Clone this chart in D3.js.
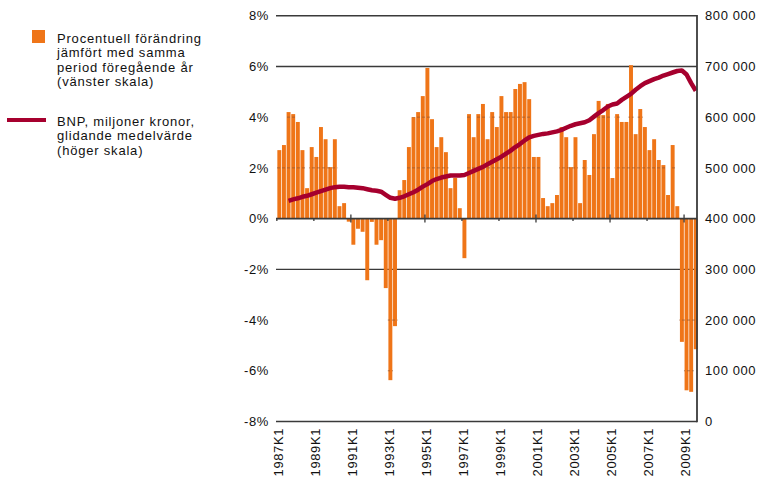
<!DOCTYPE html>
<html>
<head>
<meta charset="utf-8">
<script src="https://cdn.jsdelivr.net/npm/d3@7"></script>
<style>
  body { margin: 0; background: #fff; }
  svg { display: block; font-family: "Liberation Sans", Arial, Helvetica, sans-serif; }
  .lbl { font-size: 13px; fill: #111; letter-spacing: 0.6px; }
  .leg { font-size: 13px; fill: #111; letter-spacing: 0.8px; }
</style>
</head>
<body>
<svg width="761" height="478"></svg>
<script>

// quarters 1987K1 .. 2009K3
var quarters = [];
d3.range(1987, 2010).forEach(function(y) {
  [1, 2, 3, 4].forEach(function(q) {
    if (y < 2009 || q <= 3) quarters.push(y + "K" + q);
  });
});

// percent change vs same quarter previous year (left scale)
var change = [
  2.70, 2.90, 4.20, 4.12, 3.81, 2.70, 1.20, 2.82, 2.43, 3.61, 3.13, 2.03, 3.13, 0.49, 0.61, -0.12,
  -1.03, -0.40, -0.52, -2.43, -0.13, -1.03, -0.85, -2.74, -6.37, -4.24, 1.12, 1.52, 2.82, 4.00, 4.20, 4.83,
  5.94, 3.92, 2.82, 3.21, 2.62, 1.20, 1.60, 0.41, -1.56, 4.12, 3.21, 4.12, 4.52, 3.13, 4.20, 3.61,
  4.83, 4.20, 4.20, 5.11, 5.31, 5.38, 4.71, 2.43, 2.43, 0.81, 0.49, 0.61, 0.93, 3.61, 3.21, 2.03,
  3.21, 0.61, 2.31, 1.72, 3.33, 4.64, 4.08, 4.52, 1.60, 4.12, 3.81, 3.81, 6.05, 3.33, 4.32, 3.61,
  2.70, 3.13, 2.31, 2.11, 0.93, 2.90, 0.49, -4.86, -6.77, -6.83, -5.15
];

// BNP, miljoner kronor, glidande medelvärde (right scale)
var bnp = [
  null, null, 435000, 438000, 440000, 443000, 445000, 448000, 451000, 454000, 457000, 460000, 462000, 463000, 463000, 462000,
  462000, 461000, 460000, 458000, 456000, 455000, 453000, 447000, 441000, 439000, 441000, 444000, 448000, 452000, 457000, 463000,
  468000, 474000, 478000, 481000, 483000, 485000, 485000, 485000, 486000, 490000, 494000, 498000, 502000, 507000, 512000, 517000,
  522000, 528000, 534000, 541000, 547000, 554000, 560000, 563000, 565000, 567000, 568000, 570000, 572000, 575000, 579000, 583000,
  586000, 588000, 590000, 594000, 601000, 608000, 614000, 621000, 625000, 627000, 634000, 640000, 646000, 654000, 661000, 667000,
  671000, 675000, 678000, 682000, 685000, 688000, 691000, 692000, 684000, 667000, 652000
];

var tickLabels = ["1987K1", "1989K1", "1991K1", "1993K1", "1995K1", "1997K1", "1999K1", "2001K1", "2003K1", "2005K1", "2007K1", "2009K1"];
var majorTicks = ["1991K1", "1995K1", "2001K1", "2005K1", "2009K1"];
var leftTicks = [8, 6, 4, 2, 0, -2, -4, -6, -8];
var rightTicks = [800000, 700000, 600000, 500000, 400000, 300000, 200000, 100000, 0];
var solidLines = [8, 6, -2, -8];
var barGridLines = [4, 2, -4, -6];

var legendBars = ["Procentuell förändring", "jämfört med samma", "period föregående år", "(vänster skala)"];
var legendLine = ["BNP, miljoner kronor,", "glidande medelvärde", "(höger skala)"];

var plotLeft = 277, plotRight = 698.1, plotTop = 15.7, plotBottom = 421.5;
var axisX = 697;
var orange = "#ef7518", red = "#a6002e", ink = "#3a3a3a";

var svg = d3.select("svg");

var x = d3.scaleBand()
    .domain(quarters)
    .range([plotLeft, plotRight])
    .paddingInner(0.15)
    .paddingOuter(0.075);

var yL = d3.scaleLinear().domain([-8, 8]).range([plotBottom, plotTop]);
var yR = d3.scaleLinear().domain([0, 800000]).range([plotBottom, plotTop]);

// solid horizontal rules
svg.append("g")
  .selectAll("line")
  .data(solidLines)
  .enter().append("line")
    .attr("x1", plotLeft - 1).attr("x2", axisX)
    .attr("y1", function(d) { return yL(d); })
    .attr("y2", function(d) { return yL(d); })
    .attr("stroke", ink)
    .attr("stroke-width", 1.4);

// bars
var barData = quarters.map(function(q, i) { return {q: q, v: change[i]}; });

svg.append("g")
  .selectAll("rect")
  .data(barData)
  .enter().append("rect")
    .attr("x", function(d) { return x(d.q); })
    .attr("width", x.bandwidth())
    .attr("y", function(d) { return yL(Math.max(0, d.v)); })
    .attr("height", function(d) { return Math.abs(yL(d.v) - yL(0)); })
    .attr("fill", orange);

// gridlines that only show on top of bars
var clip = svg.append("clipPath").attr("id", "barclip");
clip.selectAll("rect")
  .data(barData)
  .enter().append("rect")
    .attr("x", function(d) { return x(d.q) - 0.6; })
    .attr("width", x.bandwidth() + 1.2)
    .attr("y", function(d) { return yL(Math.max(0, d.v)); })
    .attr("height", function(d) { return Math.abs(yL(d.v) - yL(0)); });

svg.append("g")
    .attr("clip-path", "url(#barclip)")
  .selectAll("line")
  .data(barGridLines)
  .enter().append("line")
    .attr("x1", plotLeft).attr("x2", axisX)
    .attr("y1", function(d) { return yL(d); })
    .attr("y2", function(d) { return yL(d); })
    .attr("stroke", "#9a5a30")
    .attr("stroke-opacity", 0.75)
    .attr("stroke-dasharray", "3,2")
    .attr("stroke-width", 1);

// zero line + ticks
svg.append("line")
    .attr("x1", plotLeft - 1).attr("x2", axisX)
    .attr("y1", yL(0)).attr("y2", yL(0))
    .attr("stroke", ink)
    .attr("stroke-width", 1.6);

svg.append("g")
  .selectAll("line")
  .data(tickLabels)
  .enter().append("line")
    .attr("x1", function(d) { return x(d) - 0.5; })
    .attr("x2", function(d) { return x(d) - 0.5; })
    .attr("y1", function(d) { return yL(0) - (majorTicks.indexOf(d) >= 0 ? 4 : 0); })
    .attr("y2", function(d) { return yL(0) + (majorTicks.indexOf(d) >= 0 ? 4 : 2.5); })
    .attr("stroke", ink)
    .attr("stroke-width", 1.3);

// BNP line
var line = d3.line()
    .defined(function(d) { return d != null; })
    .x(function(d, i) { return x(quarters[i]) + x.bandwidth() / 2; })
    .y(function(d) { return yR(d); });

svg.append("path")
    .datum(bnp)
    .attr("d", line)
    .attr("fill", "none")
    .attr("stroke", red)
    .attr("stroke-width", 4.5)
    .attr("stroke-linejoin", "round");

// right axis line
svg.append("line")
    .attr("x1", axisX).attr("x2", axisX)
    .attr("y1", plotTop - 0.7).attr("y2", plotBottom + 0.7)
    .attr("stroke", ink)
    .attr("stroke-width", 1.8);

// left labels
svg.append("g")
  .selectAll("text")
  .data(leftTicks)
  .enter().append("text")
    .attr("class", "lbl")
    .attr("x", 269)
    .attr("y", function(d) { return yL(d); })
    .attr("dy", "0.36em")
    .attr("text-anchor", "end")
    .text(function(d) { return d + "%"; });

// right labels
var fmt = function(d) { return d3.format(",")(d).replace(/,/g, " "); };
svg.append("g")
  .selectAll("text")
  .data(rightTicks)
  .enter().append("text")
    .attr("class", "lbl")
    .attr("x", 705)
    .attr("y", function(d) { return yR(d); })
    .attr("dy", "0.36em")
    .text(fmt);

// bottom labels, rotated
svg.append("g")
  .selectAll("text")
  .data(tickLabels)
  .enter().append("text")
    .attr("class", "lbl")
    .attr("text-anchor", "end")
    .attr("transform", function(d) { return "translate(" + (x(d) + 5.5) + ",428) rotate(-90)"; })
    .text(function(d) { return d; });

// legend
svg.append("rect")
    .attr("x", 32).attr("y", 30)
    .attr("width", 13).attr("height", 13)
    .attr("fill", orange);

svg.append("g")
  .selectAll("text")
  .data(legendBars)
  .enter().append("text")
    .attr("class", "leg")
    .attr("x", 57)
    .attr("y", function(d, i) { return 42.5 + i * 14.5; })
    .text(function(d) { return d; });

svg.append("line")
    .attr("x1", 7).attr("x2", 46)
    .attr("y1", 120).attr("y2", 120)
    .attr("stroke", red)
    .attr("stroke-width", 4);

svg.append("g")
  .selectAll("text")
  .data(legendLine)
  .enter().append("text")
    .attr("class", "leg")
    .attr("x", 57)
    .attr("y", function(d, i) { return 125.5 + i * 14.5; })
    .text(function(d) { return d; });

</script>
</body>
</html>
